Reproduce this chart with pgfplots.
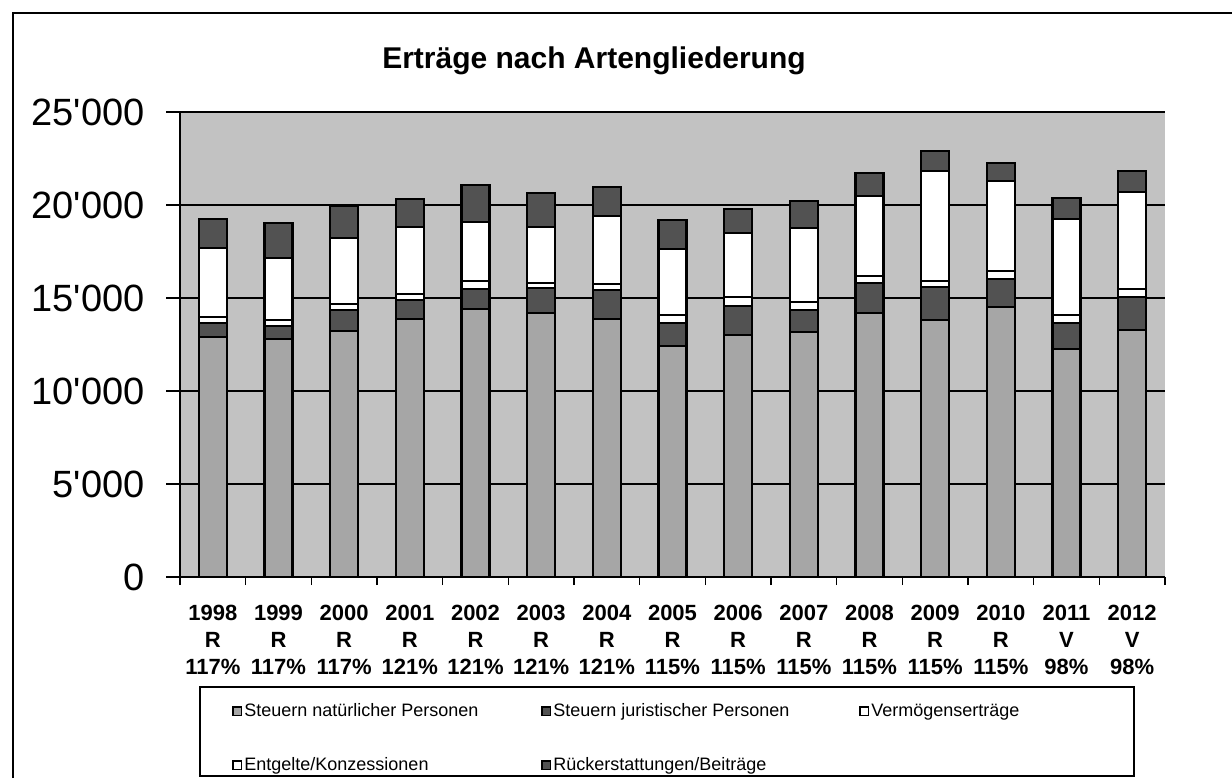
\documentclass[border=0pt]{standalone}
\usepackage{pgfplots}
\pgfplotsset{compat=1.18}
\usepackage{pgfplotstable}
\usepackage{fontspec}
\setmainfont{Liberation Sans}
\definecolor{bgcol}{RGB}{194,194,194}
\definecolor{natcol}{RGB}{166,166,166}
\definecolor{darkcol}{RGB}{82,82,82}

\pgfplotstableread{
x nat jur verm entg rueck
0 12890 750 360 3670 1560
1 12780 710 330 3350 1850
2 13230 1120 330 3560 1710
3 13870 1020 330 3580 1510
4 14410 1060 440 3190 1980
5 14180 1340 270 3040 1800
6 13870 1560 310 3670 1570
7 12420 1250 420 3530 1570
8 13010 1580 450 3440 1300
9 13190 1160 420 4010 1450
10 14210 1610 380 4280 1220
11 13820 1790 320 5910 1080
12 14530 1490 430 4860 930
13 12240 1430 420 5140 1130
14 13280 1790 400 5250 1120
}\data

\pgfplotsset{mylegend/.style={legend image code/.code={\draw[##1,line width=0.6pt] (0pt,-2.2pt) rectangle (4.4pt,2.2pt);}}}

\begin{document}
\begin{tikzpicture}
\path[use as bounding box] (0,0) rectangle (616pt,-389pt);
\draw[line width=1.2pt] (6.5pt,-389pt) -- (6.5pt,-6.5pt) -- (616pt,-6.5pt);
\node[anchor=base, font=\fontsize{15}{17}\selectfont\bfseries] at (297pt,-34pt) {Erträge nach Artengliederung};
\draw[line width=0.9pt] (100pt,-343.5pt) rectangle (567pt,-388pt);
\begin{axis}[
  at={(90pt,-288.5pt)}, anchor=south west,
  scale only axis, width=492.5pt, height=232.5pt,
  xmin=-0.5, xmax=14.5, ymin=0, ymax=25000,
  ybar stacked, bar width=14pt,
  axis background/.style={fill=bgcol},
  axis x line*=bottom, axis y line*=left,
  axis line style={-, line width=1pt, black},
  ymajorgrids, grid style={black, line width=0.6pt},
  scaled y ticks=false,
  ytick={0,5000,10000,15000,20000,25000},
  yticklabels={0,5\textquotesingle000,10\textquotesingle000,15\textquotesingle000,20\textquotesingle000,25\textquotesingle000},
  tick align=outside, major tick length=7pt, minor tick length=4pt,
  ytick style={black, line width=0.8pt},
  major x tick style={draw=none},
  minor x tick style={black, line width=0.8pt},
  xtick={0,...,14},
  minor xtick={-0.5,0.5,...,14.5},
  xticklabels={{1998\\R\\117\%},{1999\\R\\117\%},{2000\\R\\117\%},{2001\\R\\121\%},{2002\\R\\121\%},{2003\\R\\121\%},{2004\\R\\121\%},{2005\\R\\115\%},{2006\\R\\115\%},{2007\\R\\115\%},{2008\\R\\115\%},{2009\\R\\115\%},{2010\\R\\115\%},{2011\\V\\98\%},{2012\\V\\98\%}},
  xticklabel style={align=center, font=\fontsize{11}{13.5}\selectfont\bfseries, inner sep=0pt, yshift=-7pt},
  yticklabel style={font=\fontsize{19}{22}\selectfont, inner sep=0pt, xshift=-10.5pt},
  legend columns=3,
  legend cell align=left,
  legend style={draw=none, fill=none, at={(axis description cs:0.0528,-0.2667)}, anchor=north west,
    inner sep=0pt, font=\fontsize{9}{10.8}\selectfont, column sep=0pt, row sep=17pt,
    nodes={inner sep=1pt}},
]
\addplot[fill=natcol, draw=black, line width=1.1pt, mylegend] table[x=x,y=nat]{\data};
\addlegendentry{\makebox[147.5pt][l]{Steuern natürlicher Personen}}
\addplot[fill=darkcol, draw=black, line width=1.1pt, mylegend] table[x=x,y=jur]{\data};
\addlegendentry{\makebox[152pt][l]{Steuern juristischer Personen}}
\addplot[fill=white, draw=black, line width=1.1pt, mylegend] table[x=x,y=verm]{\data};
\addlegendentry{Vermögenserträge}
\addplot[fill=white, draw=black, line width=1.1pt, mylegend] table[x=x,y=entg]{\data};
\addlegendentry{Entgelte/Konzessionen}
\addplot[fill=darkcol, draw=black, line width=1.1pt, mylegend] table[x=x,y=rueck]{\data};
\addlegendentry{Rückerstattungen/Beiträge}
\end{axis}
\end{tikzpicture}
\end{document}
